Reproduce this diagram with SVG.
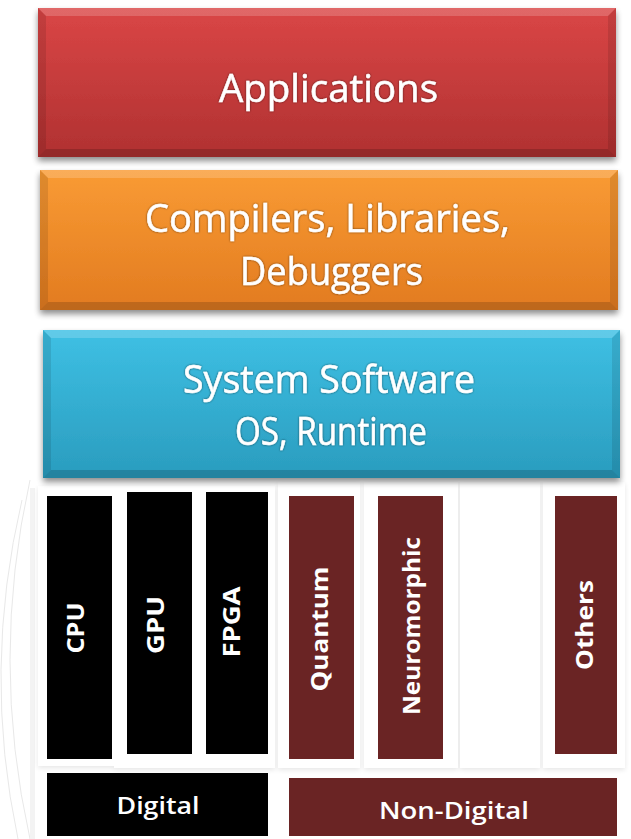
<svg xmlns="http://www.w3.org/2000/svg" width="631" height="839" viewBox="0 0 631 839">
  <defs>
    <linearGradient id="gRed" x1="0" y1="0" x2="0" y2="1">
      <stop offset="0" stop-color="#da4646"/>
      <stop offset="1" stop-color="#b03131"/>
    </linearGradient>
    <linearGradient id="gOrange" x1="0" y1="0" x2="0" y2="1">
      <stop offset="0" stop-color="#f99b34"/>
      <stop offset="1" stop-color="#e27b20"/>
    </linearGradient>
    <linearGradient id="gBlue" x1="0" y1="0" x2="0" y2="1">
      <stop offset="0" stop-color="#3ec0e4"/>
      <stop offset="1" stop-color="#2a9cbe"/>
    </linearGradient>
    <filter id="shadow" x="-5%" y="-10%" width="110%" height="130%">
      <feGaussianBlur in="SourceAlpha" stdDeviation="3"/>
      <feOffset dx="0" dy="4"/>
      <feComponentTransfer><feFuncA type="linear" slope="0.45"/></feComponentTransfer>
      <feMerge><feMergeNode/><feMergeNode in="SourceGraphic"/></feMerge>
    </filter>
    <filter id="cardShadow" x="-20%" y="-5%" width="140%" height="110%">
      <feGaussianBlur in="SourceAlpha" stdDeviation="2.5"/>
      <feOffset dx="0" dy="2"/>
      <feComponentTransfer><feFuncA type="linear" slope="0.10"/></feComponentTransfer>
      <feMerge><feMergeNode/><feMergeNode in="SourceGraphic"/></feMerge>
    </filter>
    <filter id="glow" x="-10%" y="-20%" width="120%" height="140%">
      <feGaussianBlur in="SourceAlpha" stdDeviation="0.8"/>
      <feComponentTransfer><feFuncA type="linear" slope="0.6"/></feComponentTransfer>
      <feMerge><feMergeNode/><feMergeNode in="SourceGraphic"/></feMerge>
    </filter>
  </defs>
  <style>
    .layer { font-family: "Open Sans", "Liberation Sans", sans-serif; font-size: 39px; fill: #ffffff; stroke: #ffffff; stroke-width: 0.5px; text-anchor: middle; }
    .col { font-family: "Open Sans", "Liberation Sans", sans-serif; font-size: 23px; font-weight: bold; fill: #ffffff; text-anchor: middle; }
    .base { font-family: "Open Sans", "Liberation Sans", sans-serif; font-size: 24px; font-weight: 600; fill: #ffffff; text-anchor: middle; }
    .hi { fill: #ffffff; opacity: 0.18; }
    .lo { fill: #000000; opacity: 0.16; }
    .side { fill: #000000; opacity: 0.10; }
    .card { fill: #ffffff; }
    .digital { fill: #000000; }
    .analog { fill: #6a2424; }
  </style>

  <rect x="0" y="0" width="631" height="839" fill="#ffffff"/>

  <!-- faint slide decoration on the left -->
  <g fill="none" stroke="#e8e8e8" stroke-width="1">
    <path d="M30,480 Q-10,660 30,839"/>
    <path d="M22,500 Q-18,670 18,839"/>
  </g>
  <rect x="30" y="488" width="5" height="351" fill="#f3f3f3"/>

  <!-- white cards behind the hardware columns -->
  <g id="cards" filter="url(#cardShadow)">
    <rect class="card" x="38" y="486" width="80" height="280"/>
    <rect class="card" x="114" y="486" width="80" height="282"/>
    <rect class="card" x="193" y="486" width="82" height="282"/>
    <rect class="card" x="278" y="482" width="82" height="286"/>
    <rect class="card" x="364" y="482" width="94" height="286"/>
    <rect class="card" x="460" y="482" width="80" height="286"/>
    <rect class="card" x="543" y="482" width="82" height="286"/>
  </g>

  <!-- Applications layer -->
  <g id="applications">
    <g filter="url(#shadow)">
      <rect x="38" y="8" width="578" height="149" fill="url(#gRed)"/>
    </g>
    <polygon class="hi" points="38,8 616,8 608,16 46,16"/>
    <polygon class="lo" points="38,157 616,157 608,149 46,149"/>
    <polygon class="side" points="38,8 46,16 46,149 38,157"/>
    <polygon class="side" points="616,8 608,16 608,149 616,157"/>
    <text class="layer" x="328.5" y="102" textLength="219" lengthAdjust="spacingAndGlyphs" filter="url(#glow)">Applications</text>
  </g>

  <!-- Compilers / Libraries / Debuggers layer -->
  <g id="toolchain">
    <g filter="url(#shadow)">
      <rect x="40" y="170" width="578" height="140" fill="url(#gOrange)"/>
    </g>
    <polygon class="hi" points="40,170 618,170 610,178 48,178"/>
    <polygon class="lo" points="40,310 618,310 610,302 48,302"/>
    <polygon class="side" points="40,170 48,178 48,302 40,310"/>
    <polygon class="side" points="618,170 610,178 610,302 618,310"/>
    <text class="layer" x="327.5" y="232" textLength="365" lengthAdjust="spacingAndGlyphs" filter="url(#glow)">Compilers, Libraries,</text>
    <text class="layer" x="331.5" y="285" textLength="183" lengthAdjust="spacingAndGlyphs" filter="url(#glow)">Debuggers</text>
  </g>

  <!-- System software layer -->
  <g id="system">
    <g filter="url(#shadow)">
      <rect x="43" y="330" width="577" height="148" fill="url(#gBlue)"/>
    </g>
    <polygon class="hi" points="43,330 620,330 612,338 51,338"/>
    <polygon class="lo" points="43,478 620,478 612,470 51,470"/>
    <polygon class="side" points="43,330 51,338 51,470 43,478"/>
    <polygon class="side" points="620,330 612,338 612,470 620,478"/>
    <text class="layer" x="329" y="393" textLength="292" lengthAdjust="spacingAndGlyphs" filter="url(#glow)">System Software</text>
    <text class="layer" x="331" y="445" textLength="192" lengthAdjust="spacingAndGlyphs" filter="url(#glow)">OS, Runtime</text>
  </g>

  <!-- Digital hardware -->
  <g id="cpu">
    <rect class="digital" x="47" y="496" width="65" height="263"/>
    <text class="col" transform="translate(84,628) rotate(-90)" textLength="51" lengthAdjust="spacingAndGlyphs">CPU</text>
  </g>
  <g id="gpu">
    <rect class="digital" x="127" y="492" width="65" height="262"/>
    <text class="col" transform="translate(164,625) rotate(-90)" textLength="58" lengthAdjust="spacingAndGlyphs">GPU</text>
  </g>
  <g id="fpga">
    <rect class="digital" x="206" y="492" width="62" height="262"/>
    <text class="col" transform="translate(240,622) rotate(-90)" textLength="71" lengthAdjust="spacingAndGlyphs">FPGA</text>
  </g>

  <!-- Non-digital hardware -->
  <g id="quantum">
    <rect class="analog" x="289" y="496" width="65" height="263"/>
    <text class="col" transform="translate(328,629) rotate(-90)" textLength="125" lengthAdjust="spacingAndGlyphs">Quantum</text>
  </g>
  <g id="neuromorphic">
    <rect class="analog" x="378" y="496" width="65" height="263"/>
    <text class="col" transform="translate(420,626) rotate(-90)" textLength="178" lengthAdjust="spacingAndGlyphs">Neuromorphic</text>
  </g>
  <g id="others">
    <rect class="analog" x="555" y="496" width="62" height="258"/>
    <text class="col" transform="translate(593,625) rotate(-90)" textLength="90" lengthAdjust="spacingAndGlyphs">Others</text>
  </g>

  <!-- Category bars -->
  <g id="digital">
    <rect class="digital" x="47" y="773" width="221" height="63"/>
    <text class="base" x="158" y="814" textLength="83" lengthAdjust="spacingAndGlyphs">Digital</text>
  </g>
  <g id="non-digital">
    <rect class="analog" x="289" y="778" width="328" height="58"/>
    <text class="base" x="454" y="819" textLength="150" lengthAdjust="spacingAndGlyphs">Non-Digital</text>
  </g>
</svg>
